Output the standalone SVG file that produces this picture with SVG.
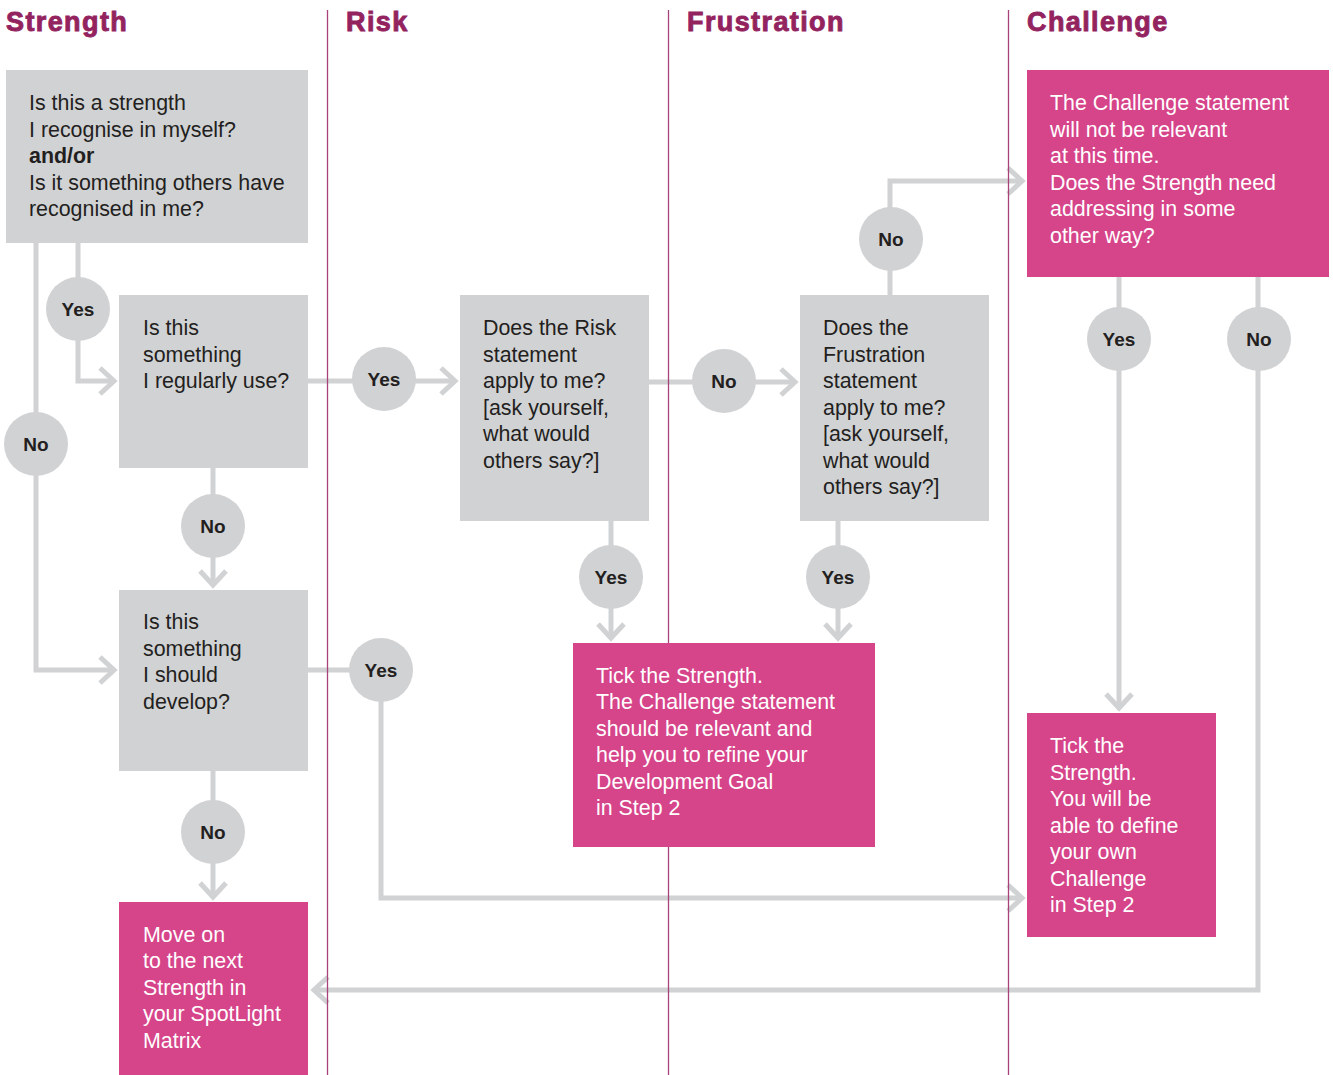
<svg xmlns="http://www.w3.org/2000/svg" width="1333" height="1075" viewBox="0 0 1333 1075">
<defs>
<style>
.hdr{font-family:"Liberation Sans",Arial,sans-serif;font-weight:bold;font-size:27px;fill:#93235f;stroke:#93235f;stroke-width:0.9;letter-spacing:1.4px}
.div{stroke:#a8427a;stroke-width:1.3;fill:none}
.conn{stroke:#d1d2d4;stroke-width:5;fill:none;stroke-linejoin:miter}
.grey{fill:#d1d2d4}
.pink{fill:#d6448a}
.t{font-family:"Liberation Sans",Arial,sans-serif;font-size:21.4px;fill:#231f20}
.tw{font-family:"Liberation Sans",Arial,sans-serif;font-size:21.4px;fill:#ffffff}
.lbl{font-family:"Liberation Sans",Arial,sans-serif;font-size:19px;font-weight:bold;fill:#231f20;text-anchor:middle}
</style>
<marker id="arr" markerUnits="userSpaceOnUse" viewBox="-20 -20 40 40" markerWidth="40" markerHeight="40" refX="0" refY="0" orient="auto">
<path d="M-14,-13 L0,0 L-14,13" fill="none" stroke="#d1d2d4" stroke-width="5"/>
</marker>
</defs>
<rect width="1333" height="1075" fill="#ffffff"/>

<g id="connectors">
<polyline class="conn" points="78,243 78,381 114,381" marker-end="url(#arr)"/>
<polyline class="conn" points="36,243 36,670 114,670" marker-end="url(#arr)"/>
<polyline class="conn" points="308,381 455,381" marker-end="url(#arr)"/>
<polyline class="conn" points="213,468 213,585" marker-end="url(#arr)"/>
<polyline class="conn" points="308,670 381,670 381,898 1022,898" marker-end="url(#arr)"/>
<polyline class="conn" points="213,771 213,897" marker-end="url(#arr)"/>
<polyline class="conn" points="649,382 795,382" marker-end="url(#arr)"/>
<polyline class="conn" points="611,521 611,638" marker-end="url(#arr)"/>
<polyline class="conn" points="838,521 838,638" marker-end="url(#arr)"/>
<polyline class="conn" points="890,295 890,181 1022,181" marker-end="url(#arr)"/>
<polyline class="conn" points="1119,277 1119,708" marker-end="url(#arr)"/>
<polyline class="conn" points="1258,277 1258,990 314,990" marker-end="url(#arr)"/>
</g>

<g id="lanes">
<line class="div" x1="327.5" y1="10" x2="327.5" y2="1075"/>
<line class="div" x1="668.5" y1="10" x2="668.5" y2="1075"/>
<line class="div" x1="1008.5" y1="10" x2="1008.5" y2="1075"/>
<text class="hdr" x="6" y="31">Strength</text>
<text class="hdr" x="346" y="31">Risk</text>
<text class="hdr" x="687" y="31">Frustration</text>
<text class="hdr" x="1027" y="31">Challenge</text>
</g>

<g id="n-strength">
<rect class="grey" x="6" y="70" width="302" height="173"/>
<text class="t" x="29" y="110">Is this a strength</text>
<text class="t" x="29" y="137">I recognise in myself?</text>
<text class="t" x="29" y="163" font-weight="bold">and/or</text>
<text class="t" x="29" y="190">Is it something others have</text>
<text class="t" x="29" y="216">recognised in me?</text>
</g>

<g id="n-use">
<rect class="grey" x="119" y="295" width="189" height="173"/>
<text class="t" x="143" y="335">Is this</text>
<text class="t" x="143" y="362">something</text>
<text class="t" x="143" y="388">I regularly use?</text>
</g>

<g id="n-develop">
<rect class="grey" x="119" y="590" width="189" height="181"/>
<text class="t" x="143" y="629">Is this</text>
<text class="t" x="143" y="656">something</text>
<text class="t" x="143" y="682">I should</text>
<text class="t" x="143" y="709">develop?</text>
</g>

<g id="n-moveon">
<rect class="pink" x="119" y="902" width="189" height="173"/>
<text class="tw" x="143" y="942">Move on</text>
<text class="tw" x="143" y="968">to the next</text>
<text class="tw" x="143" y="995">Strength in</text>
<text class="tw" x="143" y="1021">your SpotLight</text>
<text class="tw" x="143" y="1048">Matrix</text>
</g>

<g id="n-risk">
<rect class="grey" x="460" y="295" width="189" height="226"/>
<text class="t" x="483" y="335">Does the Risk</text>
<text class="t" x="483" y="362">statement</text>
<text class="t" x="483" y="388">apply to me?</text>
<text class="t" x="483" y="415">[ask yourself,</text>
<text class="t" x="483" y="441">what would</text>
<text class="t" x="483" y="468">others say?]</text>
</g>

<g id="n-frustration">
<rect class="grey" x="800" y="295" width="189" height="226"/>
<text class="t" x="823" y="335">Does the</text>
<text class="t" x="823" y="362">Frustration</text>
<text class="t" x="823" y="388">statement</text>
<text class="t" x="823" y="415">apply to me?</text>
<text class="t" x="823" y="441">[ask yourself,</text>
<text class="t" x="823" y="468">what would</text>
<text class="t" x="823" y="494">others say?]</text>
</g>

<g id="n-tick1">
<rect class="pink" x="573" y="643" width="302" height="204"/>
<text class="tw" x="596" y="683">Tick the Strength.</text>
<text class="tw" x="596" y="709">The Challenge statement</text>
<text class="tw" x="596" y="736">should be relevant and</text>
<text class="tw" x="596" y="762">help you to refine your</text>
<text class="tw" x="596" y="789">Development Goal</text>
<text class="tw" x="596" y="815">in Step 2</text>
</g>

<g id="n-challenge">
<rect class="pink" x="1027" y="70" width="302" height="207"/>
<text class="tw" x="1050" y="110">The Challenge statement</text>
<text class="tw" x="1050" y="137">will not be relevant</text>
<text class="tw" x="1050" y="163">at this time.</text>
<text class="tw" x="1050" y="190">Does the Strength need</text>
<text class="tw" x="1050" y="216">addressing in some</text>
<text class="tw" x="1050" y="243">other way?</text>
</g>

<g id="n-tick2">
<rect class="pink" x="1027" y="713" width="189" height="224"/>
<text class="tw" x="1050" y="753">Tick the</text>
<text class="tw" x="1050" y="780">Strength.</text>
<text class="tw" x="1050" y="806">You will be</text>
<text class="tw" x="1050" y="833">able to define</text>
<text class="tw" x="1050" y="859">your own</text>
<text class="tw" x="1050" y="886">Challenge</text>
<text class="tw" x="1050" y="912">in Step 2</text>
</g>

<g id="c-yes1"><circle class="grey" cx="78" cy="309" r="32"/><text class="lbl" x="78" y="316">Yes</text></g>
<g id="c-no1"><circle class="grey" cx="36" cy="444" r="32"/><text class="lbl" x="36" y="451">No</text></g>
<g id="c-no2"><circle class="grey" cx="213" cy="526" r="32"/><text class="lbl" x="213" y="533">No</text></g>
<g id="c-no3"><circle class="grey" cx="213" cy="832" r="32"/><text class="lbl" x="213" y="839">No</text></g>
<g id="c-yes2"><circle class="grey" cx="384" cy="379" r="32"/><text class="lbl" x="384" y="386">Yes</text></g>
<g id="c-yes3"><circle class="grey" cx="381" cy="670" r="32"/><text class="lbl" x="381" y="677">Yes</text></g>
<g id="c-no4"><circle class="grey" cx="724" cy="381" r="32"/><text class="lbl" x="724" y="388">No</text></g>
<g id="c-yes4"><circle class="grey" cx="611" cy="577" r="32"/><text class="lbl" x="611" y="584">Yes</text></g>
<g id="c-yes5"><circle class="grey" cx="838" cy="577" r="32"/><text class="lbl" x="838" y="584">Yes</text></g>
<g id="c-no5"><circle class="grey" cx="891" cy="239" r="32"/><text class="lbl" x="891" y="246">No</text></g>
<g id="c-yes6"><circle class="grey" cx="1119" cy="339" r="32"/><text class="lbl" x="1119" y="346">Yes</text></g>
<g id="c-no6"><circle class="grey" cx="1259" cy="339" r="32"/><text class="lbl" x="1259" y="346">No</text></g>
</svg>
